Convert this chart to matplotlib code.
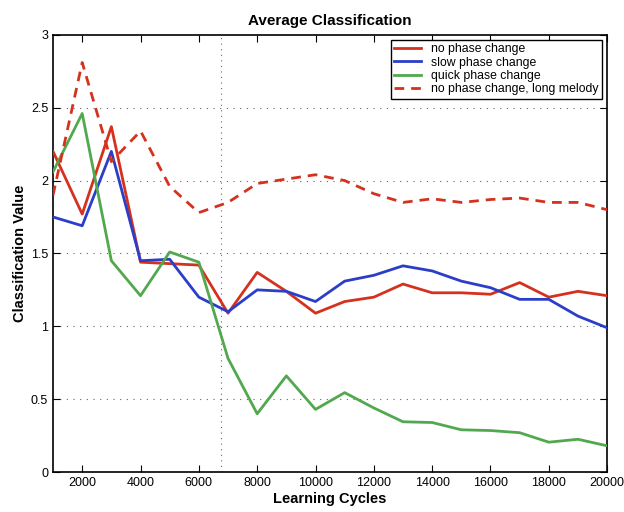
import matplotlib
matplotlib.use('Agg')
import matplotlib.pyplot as plt
import numpy as np

plt.rcParams['font.family'] = ['Liberation Sans', 'DejaVu Sans']

# learning cycles at which the network was evaluated
cycles = list(range(1000, 20001, 1000))

no_phase = [2.20, 1.77, 2.37, 1.44, 1.43, 1.42, 1.09, 1.37, 1.24, 1.09,
            1.17, 1.20, 1.29, 1.23, 1.23, 1.22, 1.30, 1.20, 1.24, 1.21]
slow_phase = [1.75, 1.69, 2.20, 1.45, 1.46, 1.20, 1.10, 1.25, 1.24, 1.17,
              1.31, 1.35, 1.415, 1.38, 1.31, 1.265, 1.185, 1.185, 1.07, 0.99]
quick_phase = [2.06, 2.46, 1.45, 1.21, 1.51, 1.44, 0.78, 0.40, 0.66, 0.43,
               0.545, 0.44, 0.345, 0.34, 0.29, 0.285, 0.27, 0.205, 0.225, 0.18]
long_melody = [1.90, 2.81, 2.13, 2.34, 1.96, 1.78, 1.85, 1.98, 2.01, 2.04,
               2.00, 1.91, 1.85, 1.875, 1.85, 1.87, 1.88, 1.85, 1.85, 1.80]

xticks = list(range(2000, 20001, 2000))
yticks = [0, 0.5, 1, 1.5, 2, 2.5, 3]
marker_cycle = 6750

red = '#d4321e'
blue = '#2a3ec8'
green = '#52a84e'

fig = plt.figure(figsize=(6.24, 5.12), dpi=100)
ax = fig.add_axes([0.085, 0.078, 0.888, 0.854])

# dotted horizontal grid and one vertical marker
for y in yticks[1:-1]:
    ax.axhline(y, color='#666666', lw=0.8, ls=(0, (1, 5)), zorder=1)
ax.axvline(marker_cycle, color='#666666', lw=0.8, ls=(0, (1, 4)), zorder=1)

ax.plot(cycles, no_phase, color=red, lw=2, label='no phase change', zorder=3)
ax.plot(cycles, slow_phase, color=blue, lw=2, label='slow phase change', zorder=3)
ax.plot(cycles, quick_phase, color=green, lw=2, label='quick phase change', zorder=3)
ax.plot(cycles, long_melody, color=red, lw=2, ls=(0, (3.5, 2.5)),
        label='no phase change, long melody', zorder=3)

ax.set_xlim(1000, 20000)
ax.set_ylim(0, 3)
ax.set_xticks(xticks)
ax.set_yticks(yticks)
ax.set_yticklabels(['0', '0.5', '1', '1.5', '2', '2.5', '3'])
ax.tick_params(direction='in', top=True, right=True, labelsize=9, length=5)
for s in ax.spines.values():
    s.set_linewidth(1.2)

ax.set_title('Average Classification', fontsize=11, fontweight='bold', pad=7)
ax.set_xlabel('Learning Cycles', fontsize=10.5, fontweight='bold', labelpad=2)
ax.set_ylabel('Classification Value', fontsize=10.5, fontweight='bold', labelpad=3)

leg = ax.legend(loc='upper right', fontsize=8.8, fancybox=False, framealpha=1,
                edgecolor='black', handlelength=2.2, borderpad=0.3,
                labelspacing=0.1, borderaxespad=0.4)
leg.get_frame().set_linewidth(1.0)

fig.savefig('out.png', dpi=100)
